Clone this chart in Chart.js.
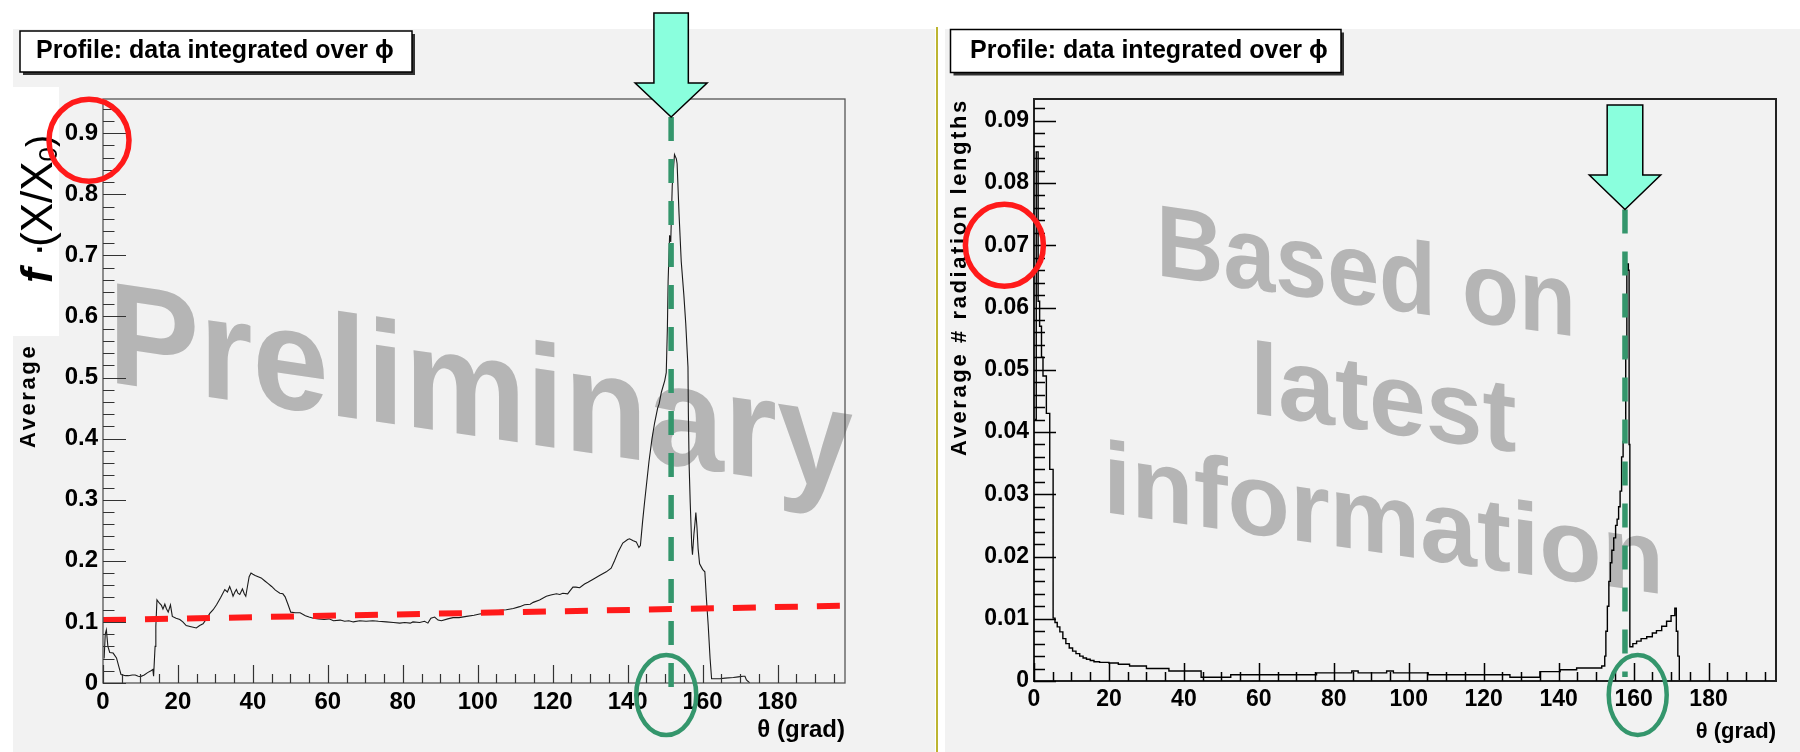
<!DOCTYPE html>
<html>
<head>
<meta charset="utf-8">
<script src="https://cdn.jsdelivr.net/npm/chart.js@4.4.1/dist/chart.umd.min.js"></script>
<style>
  body { margin: 0; background: #fff; width: 1800px; height: 752px; overflow: hidden; }
  canvas { position: absolute; top: 0; }
  #left { left: 0; }
  #right { left: 930px; }
</style>
</head>
<body>
<canvas id="left" width="937" height="752"></canvas>
<canvas id="right" width="870" height="752"></canvas>
<script>
// Material budget profiles (theta in grad)

const FONT = '"Liberation Sans", Arial, Helvetica, sans-serif';

const xTickValues = [0, 20, 40, 60, 80, 100, 120, 140, 160, 180];
const xTickLabels = ['0', '20', '40', '60', '80', '100', '120', '140', '160', '180'];
const leftYTickValues = [0, 0.1, 0.2, 0.3, 0.4, 0.5, 0.6, 0.7, 0.8, 0.9];
const leftYTickLabels = ['0', '0.1', '0.2', '0.3', '0.4', '0.5', '0.6', '0.7', '0.8', '0.9'];
const rightYTickValues = [0, 0.01, 0.02, 0.03, 0.04, 0.05, 0.06, 0.07, 0.08, 0.09];
const rightYTickLabels = ['0', '0.01', '0.02', '0.03', '0.04', '0.05', '0.06', '0.07', '0.08', '0.09'];

const panelTitle = 'Profile: data integrated over \u03d5';
const xAxisTitle = '\u03b8 (grad)';
const yAxisTitle = 'Average # radiation lengths';

// left profile: f*(X/X0)
const leftTheta = [0.3, 0.6, 0.9, 1.3, 1.8, 2.7, 3.6, 4.3, 4.8, 6.0, 6.8, 7.8, 8.6, 9.4, 10.0, 11.0, 11.9, 12.8, 13.3, 13.5,
  13.9, 14.1, 14.4, 15.0, 15.6, 16.0, 16.5, 16.9, 17.4, 18.0, 18.5, 19.5, 20.5, 21.3, 22.2, 23.5, 24.9, 25.8, 26.7, 27.6,
  28.5, 29.4, 30.3, 31.4, 32.5, 33.2, 33.8, 34.3, 34.7, 35.2, 35.6, 36.0, 36.5, 37.2, 37.7, 38.1, 38.6, 39.0, 39.5, 40.0,
  40.6, 41.4, 42.2, 43.2, 44.0, 45.0, 46.0, 47.2, 48.0, 48.6, 49.4, 50.1, 51.3, 52.6, 54.0, 55.0, 56.1, 57.5, 59.0, 60.3,
  61.5, 63.3, 64.5, 65.6, 66.8, 68.5, 70.2, 72.0, 73.5, 75.6, 77.5, 79.2, 80.5, 82.0, 82.7, 84.5, 85.8, 86.7, 87.5, 88.5,
  89.4, 90.3, 92.0, 93.4, 95.0, 97.0, 99.0, 100.5, 102.0, 103.5, 104.1, 106.0, 107.6, 109.5, 111.2, 112.5, 114.0, 114.8, 116.5, 118.3,
  119.5, 121.0, 121.9, 122.7, 124.0, 124.5, 125.4, 126.2, 127.2, 128.5, 129.4, 130.8, 132.5, 134.3, 135.6, 136.5, 137.5, 138.7, 140.0, 140.5,
  141.5, 142.3, 143.0, 143.4, 144.0, 144.5, 145.7, 146.5, 147.2, 148.0, 148.4, 149.0, 149.9, 150.3, 150.6, 150.8, 151.2, 151.5, 151.9, 152.5,
  153.0, 153.2, 153.7, 154.3, 155.0, 155.5, 156.1, 156.2, 156.4, 156.7, 157.1, 157.3, 157.7, 157.9, 158.2, 158.5, 158.8, 159.2, 160.0, 160.6,
  161.0, 161.5, 162.0, 162.4, 163.5, 164.6, 166.0, 168.2, 169.5, 170.8, 171.3, 171.7, 172.6];
const leftValue = [0.04, 0.08, 0.087, 0.06, 0.05, 0.049, 0.041, 0.025, 0.014, 0.012, 0.012, 0.013, 0.013, 0.011, 0.0105, 0.013, 0.017, 0.02, 0.022, 0.011,
  0.06, 0.093, 0.136, 0.131, 0.127, 0.121, 0.129, 0.122, 0.116, 0.128, 0.109, 0.106, 0.104, 0.1, 0.094, 0.092, 0.09, 0.094, 0.097, 0.105,
  0.114, 0.12, 0.128, 0.14, 0.153, 0.149, 0.158, 0.15, 0.142, 0.149, 0.153, 0.147, 0.145, 0.154, 0.146, 0.142, 0.16, 0.174, 0.18, 0.178,
  0.176, 0.174, 0.172, 0.167, 0.163, 0.158, 0.152, 0.147, 0.146, 0.141, 0.128, 0.116, 0.115, 0.115, 0.11, 0.108, 0.106, 0.105, 0.104, 0.105,
  0.102, 0.103, 0.101, 0.102, 0.1, 0.102, 0.101, 0.102, 0.101, 0.1, 0.099, 0.098, 0.099, 0.098, 0.1, 0.099, 0.101, 0.098, 0.106, 0.108,
  0.103, 0.102, 0.105, 0.107, 0.107, 0.109, 0.111, 0.113, 0.114, 0.118, 0.117, 0.119, 0.12, 0.122, 0.125, 0.128, 0.129, 0.132, 0.136, 0.142,
  0.144, 0.146, 0.145, 0.147, 0.146, 0.15, 0.157, 0.157, 0.156, 0.162, 0.165, 0.17, 0.176, 0.182, 0.188, 0.2, 0.215, 0.229, 0.235, 0.236,
  0.233, 0.231, 0.222, 0.225, 0.265, 0.295, 0.363, 0.4, 0.426, 0.45, 0.457, 0.476, 0.495, 0.508, 0.58, 0.658, 0.733, 0.722, 0.814, 0.865,
  0.858, 0.85, 0.77, 0.69, 0.635, 0.589, 0.517, 0.443, 0.358, 0.295, 0.225, 0.21, 0.245, 0.257, 0.279, 0.255, 0.22, 0.195, 0.186, 0.182,
  0.14, 0.094, 0.04, 0.007, 0.007, 0.007, 0.008, 0.009, 0.01, 0.011, 0.011, 0.005, 0];

// red dashed reference line on the left panel
const leftFitTheta = [0, 198];
const leftFitValue = [0.103, 0.1265];

// right profile: histogram, value holds from each left edge to the next
const rightTheta = [0, 0.6, 1.1, 1.5, 2.0, 2.4, 3.3, 4.2, 5.1, 5.6, 6.2, 6.9, 7.7, 8.5, 9.4, 10.3, 11.2, 12.2, 13.1, 14.0,
  15.0, 16.0, 17.5, 20.0, 22.5, 25.5, 30.0, 36.0, 44.6, 52.5, 65.0, 75.4, 84.8, 86.5, 94.1, 95.9, 105.2, 127.0, 135.0, 140.4,
  144.8, 151.5, 152.3, 152.6, 153.0, 153.4, 153.8, 154.2, 154.7, 155.2, 155.6, 156.0, 156.4, 156.8, 157.2, 157.6, 157.9, 158.2, 158.6, 158.8,
  159.0, 159.8, 160.8, 162.0, 163.5, 165.0, 166.1, 167.5, 168.8, 170.0, 171.0, 171.4, 171.8, 172.2, 198];
const rightValue = [0.042, 0.085, 0.061, 0.057, 0.052, 0.049, 0.043, 0.034, 0.0101, 0.0094, 0.0087, 0.0079, 0.0068, 0.006, 0.0053, 0.0048, 0.0044, 0.004, 0.0037, 0.0035,
  0.0033, 0.0031, 0.003, 0.0029, 0.0027, 0.0024, 0.002, 0.0016, 0.0006, 0.001, 0.001, 0.0013, 0.0016, 0.0013, 0.0016, 0.0013, 0.001, 0.0006, 0.0015, 0.0018,
  0.0021, 0.0024, 0.004, 0.008, 0.012, 0.016, 0.019, 0.021, 0.023, 0.025, 0.026, 0.028, 0.0305, 0.036, 0.0385, 0.0395, 0.052, 0.067, 0.066, 0.038,
  0.0055, 0.006, 0.0064, 0.0068, 0.0071, 0.0077, 0.0081, 0.0088, 0.0096, 0.0105, 0.0117, 0.008, 0.004, 0, 0];

// annotation positions (theta)
const leftMarkerTheta = 151.6;
const rightMarkerTheta = 157.7;
const leftRingTheta = 150.3;
const rightRingTheta = 161.1;

const toPoints = (xs, ys) => xs.map((x, i) => ({ x: x, y: ys[i] }));

function drawShearedText(ctx, line) {
    ctx.save();
    ctx.translate(line.x, line.y);
    ctx.transform(1, 0.147, 0, 1, 0, 0);
    ctx.font = `bold ${line.size}px ${FONT}`;
    ctx.fillStyle = '#b5b5b5';
    ctx.textAlign = 'left';
    ctx.textBaseline = 'alphabetic';
    if (line.maxW) ctx.fillText(line.text, 0, 0, line.maxW);
    else ctx.fillText(line.text, 0, 0);
    ctx.restore();
}

function drawInnerTicks(chart, o) {
    const { ctx, chartArea: a, scales: { x, y } } = chart;
    ctx.save();
    ctx.strokeStyle = o.tickColor;
    ctx.lineWidth = o.tickWidth;
    ctx.beginPath();
    for (let i = 0; i * o.yMinor <= y.max + 1e-9; i++) {
        const py = Math.round(y.getPixelForValue(i * o.yMinor)) + 0.5;
        const len = i % 5 === 0 ? o.yMajorLen : o.yMajorLen / 2;
        ctx.moveTo(a.left, py);
        ctx.lineTo(a.left + len, py);
    }
    for (let i = 0; i * 5 <= x.max; i++) {
        const px = Math.round(x.getPixelForValue(i * 5)) + 0.5;
        const len = i % 4 === 0 ? o.xMajorLen : o.xMajorLen / 2;
        ctx.moveTo(px, a.bottom);
        ctx.lineTo(px, a.bottom - len);
    }
    ctx.stroke();
    ctx.restore();
}

// background, watermark, frame, labels and annotations
function decorPlugin(o) {
    return {
        id: 'decor',
        beforeDraw(chart) {
            const ctx = chart.ctx;
            ctx.save();
            ctx.fillStyle = '#f2f2f2';
            ctx.fillRect(o.panel.x, o.panel.y, o.panel.w, o.panel.h);
            if (o.separator) {
                ctx.fillStyle = '#bdb531';
                ctx.fillRect(o.separator.x, o.separator.y, 2, chart.height - o.separator.y);
            }
            ctx.restore();
            o.watermark.forEach(line => drawShearedText(ctx, line));
        },
        afterDraw(chart) {
            const { ctx, chartArea: a, scales: { x, y } } = chart;
            ctx.save();

            // frame
            ctx.strokeStyle = o.frameColor;
            ctx.lineWidth = o.frameWidth;
            ctx.strokeRect(a.left, a.top, a.right - a.left, a.bottom - a.top);
            drawInnerTicks(chart, o);

            // axis titles
            ctx.fillStyle = '#000';
            ctx.font = `bold ${o.xTitleSize}px ${FONT}`;
            ctx.textAlign = 'right';
            ctx.textBaseline = 'alphabetic';
            ctx.fillText(xAxisTitle, a.right, a.bottom + o.xTitleDy);

            ctx.save();
            ctx.translate(o.yTitle.x, o.yTitle.y);
            ctx.rotate(-Math.PI / 2);
            ctx.font = `bold 22px ${FONT}`;
            ctx.textAlign = 'left';
            ctx.letterSpacing = '2.6px';
            ctx.fillText(yAxisTitle, 0, 0);
            ctx.restore();

            // pasted-over label on the left panel
            if (o.whiteBox) {
                const w = o.whiteBox;
                ctx.fillStyle = '#fff';
                ctx.fillRect(w.x, w.y, w.w, w.h);
                ctx.save();
                ctx.translate(w.baseX, w.startY);
                ctx.rotate(-Math.PI / 2);
                ctx.fillStyle = '#000';
                ctx.textAlign = 'left';
                ctx.font = `italic bold 44px ${FONT}`;
                ctx.fillText('f', 0, 0);
                ctx.font = `44px ${FONT}`;
                ctx.fillText('\u00b7', 26, 0);
                let xx = 36;
                ctx.fillText('(X/X', xx, 0);
                xx += ctx.measureText('(X/X').width;
                ctx.font = `26px ${FONT}`;
                ctx.fillText('0', xx, 5);
                xx += ctx.measureText('0').width;
                ctx.font = `36px ${FONT}`;
                ctx.fillText(')', xx, 0);
                ctx.restore();
            }

            // title box
            const t = o.titleBox;
            ctx.fillStyle = '#333';
            ctx.fillRect(t.x + 3, t.y + 3, t.w, t.h);
            ctx.fillStyle = '#fff';
            ctx.fillRect(t.x, t.y, t.w, t.h);
            ctx.strokeStyle = '#000';
            ctx.lineWidth = 1.5;
            ctx.strokeRect(t.x, t.y, t.w, t.h);
            ctx.fillStyle = '#000';
            ctx.font = `bold 25px ${FONT}`;
            ctx.textAlign = 'left';
            ctx.fillText(panelTitle, t.tx, t.ty);

            // green dashed marker line and ring
            const cx = x.getPixelForValue(o.arrow.theta);
            ctx.strokeStyle = '#34966c';
            ctx.lineWidth = 5.5;
            ctx.setLineDash([24, 18]);
            ctx.beginPath();
            ctx.moveTo(cx, o.arrow.tip);
            ctx.lineTo(cx, o.dashBottom);
            ctx.stroke();
            ctx.setLineDash([]);
            ctx.lineWidth = 4.5;
            ctx.beginPath();
            ctx.ellipse(x.getPixelForValue(o.ring.theta), o.ring.cy, o.ring.rx, o.ring.ry, 0, 0, Math.PI * 2);
            ctx.stroke();

            // red ring round the tick label
            ctx.strokeStyle = '#ff1a1a';
            ctx.lineWidth = 5.5;
            ctx.beginPath();
            ctx.ellipse(a.left + o.circle.dx, y.getPixelForValue(o.circle.value) + o.circle.dy, o.circle.rx, o.circle.ry, 0, 0, Math.PI * 2);
            ctx.stroke();

            // arrow
            const ar = o.arrow;
            ctx.beginPath();
            ctx.moveTo(cx - ar.shaftHalf, ar.top);
            ctx.lineTo(cx + ar.shaftHalf, ar.top);
            ctx.lineTo(cx + ar.shaftHalf, ar.headTop);
            ctx.lineTo(cx + ar.headHalf, ar.headTop);
            ctx.lineTo(cx, ar.tip);
            ctx.lineTo(cx - ar.headHalf, ar.headTop);
            ctx.lineTo(cx - ar.shaftHalf, ar.headTop);
            ctx.closePath();
            ctx.fillStyle = '#8affdd';
            ctx.fill();
            ctx.strokeStyle = '#000';
            ctx.lineWidth = 1.5;
            ctx.stroke();

            ctx.restore();
        }
    };
}

function makeChart(id, o) {
    return new Chart(document.getElementById(id), {
        type: 'line',
        data: { datasets: o.datasets },
        options: {
            responsive: false,
            animation: false,
            devicePixelRatio: 1,
            layout: { padding: o.padding },
            elements: { point: { radius: 0 }, line: { tension: 0 } },
            plugins: {
                legend: { display: false },
                tooltip: { enabled: false },
                title: { display: false }
            },
            scales: {
                x: {
                    type: 'linear',
                    min: 0,
                    max: 198,
                    grid: { display: false, drawTicks: false },
                    border: { display: false },
                    afterBuildTicks: s => { s.ticks = xTickValues.map(v => ({ value: v })); },
                    afterFit: s => { s.height = o.xHeight; },
                    ticks: {
                        autoSkip: false,
                        maxRotation: 0,
                        padding: o.xPad,
                        color: '#000',
                        font: { family: FONT, size: o.tickSize, weight: 'bold' },
                        callback: (v, i) => xTickLabels[i]
                    }
                },
                y: {
                    type: 'linear',
                    min: 0,
                    max: o.yMax,
                    grid: { display: false, drawTicks: false },
                    border: { display: false },
                    afterBuildTicks: s => { s.ticks = o.yTicks.map(v => ({ value: v })); },
                    afterFit: s => { s.width = o.yWidth; },
                    ticks: {
                        autoSkip: false,
                        padding: o.yPad,
                        color: '#000',
                        font: { family: FONT, size: o.tickSize, weight: 'bold' },
                        callback: (v, i) => o.yLabels[i]
                    }
                }
            }
        },
        plugins: [decorPlugin(o)]
    });
}

makeChart('left', {
    datasets: [
        {
            data: toPoints(leftFitTheta, leftFitValue),
            borderColor: '#ff1a1a',
            borderWidth: 6,
            borderDash: [23, 19]
        },
        {
            data: toPoints(leftTheta, leftValue),
            borderColor: '#1a1a1a',
            borderWidth: 1.1
        }
    ],
    padding: { left: 0, top: 99, right: 92, bottom: 0 },
    xHeight: 69, yWidth: 103, xPad: 5, yPad: 5, tickSize: 24,
    yMax: 0.956, yTicks: leftYTickValues, yLabels: leftYTickLabels,
    yMinor: 0.02, yMajorLen: 23, xMajorLen: 18,
    tickColor: '#333', tickWidth: 1.2, frameColor: '#555', frameWidth: 1.3,
    xTitleSize: 24, xTitleDy: 54,
    yTitle: { x: 34.5, y: 448 },
    panel: { x: 13, y: 29, w: 922, h: 723 },
    whiteBox: { x: 13, y: 87, w: 46, h: 249, baseX: 52, startY: 283 },
    titleBox: { x: 20, y: 31, w: 392, h: 41, tx: 36, ty: 58 },
    watermark: [{ text: 'Preliminary', x: 108, y: 382, size: 145, maxW: 745 }],
    arrow: { theta: leftMarkerTheta, top: 13, headTop: 83, tip: 117, shaftHalf: 17.2, headHalf: 36 },
    dashBottom: 688,
    ring: { theta: leftRingTheta, cy: 695, rx: 30, ry: 40 },
    circle: { value: 0.9, dx: -14, dy: 7, rx: 40, ry: 41 }
});

makeChart('right', {
    datasets: [
        {
            data: toPoints(rightTheta, rightValue),
            borderColor: '#000',
            borderWidth: 1.4,
            stepped: true
        }
    ],
    padding: { left: 0, top: 99, right: 24, bottom: 0 },
    xHeight: 71, yWidth: 104, xPad: 5, yPad: 5, tickSize: 23,
    yMax: 0.0935, yTicks: rightYTickValues, yLabels: rightYTickLabels,
    yMinor: 0.002, yMajorLen: 22, xMajorLen: 18,
    tickColor: '#000', tickWidth: 1.5, frameColor: '#222', frameWidth: 2,
    xTitleSize: 22, xTitleDy: 57,
    yTitle: { x: 36, y: 456 },
    panel: { x: 15, y: 29, w: 855, h: 723 },
    separator: { x: 6, y: 27 },
    titleBox: { x: 20.5, y: 29.5, w: 390.5, h: 43, tx: 40, ty: 58 },
    watermark: [
        { text: 'Based on', x: 226, y: 275, size: 102, maxW: 420 },
        { text: 'latest', x: 320, y: 413, size: 102 },
        { text: 'information', x: 173, y: 512, size: 102 }
    ],
    arrow: { theta: rightMarkerTheta, top: 105, headTop: 175, tip: 209.5, shaftHalf: 17.8, headHalf: 35.7 },
    dashBottom: 677,
    ring: { theta: rightRingTheta, cy: 695, rx: 29, ry: 40 },
    circle: { value: 0.07, dx: -29.6, dy: 0, rx: 39, ry: 41 }
});
</script>
</body>
</html>
